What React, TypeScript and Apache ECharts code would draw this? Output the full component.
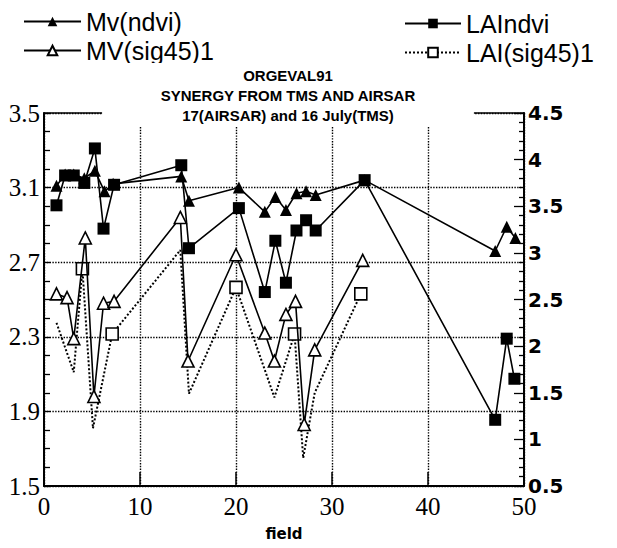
import React, { useEffect, useRef } from "react";
import * as echarts from "echarts";

// ---- data ----
const mvNdviField = [1.3, 2.2, 3.1, 4.2, 5.3, 6.3, 7.2, 14.3, 15.1, 20.3, 23.0, 24.1, 25.2, 26.3, 27.3, 28.3, 33.4, 47.0, 48.2, 49.1];
const mvNdviValue = [3.11, 3.17, 3.17, 3.15, 3.19, 3.08, 3.12, 3.16, 3.03, 3.10, 2.97, 3.05, 2.98, 3.07, 3.08, 3.06, 3.14, 2.76, 2.89, 2.83];

const mvSigField = [1.3, 2.4, 3.1, 4.3, 5.2, 6.2, 7.3, 14.2, 15.0, 20.0, 23.0, 24.0, 25.2, 26.2, 27.1, 28.2, 33.2];
const mvSigValue = [2.53, 2.51, 2.29, 2.83, 1.98, 2.48, 2.49, 2.94, 2.17, 2.74, 2.32, 2.17, 2.42, 2.49, 1.83, 2.23, 2.71];

const laiNdviField = [1.3, 2.2, 3.1, 4.2, 5.3, 6.2, 7.3, 14.3, 15.1, 20.3, 23.0, 24.1, 25.2, 26.3, 27.3, 28.3, 33.4, 47.0, 48.2, 49.0];
const laiNdviValue = [3.51, 3.83, 3.83, 3.75, 4.12, 3.26, 3.73, 3.94, 3.05, 3.48, 2.58, 3.13, 2.68, 3.24, 3.35, 3.24, 3.78, 1.21, 2.08, 1.65];

const laiSigField = [1.3, 3.1, 4.0, 5.1, 7.1, 14.2, 15.1, 20.0, 24.0, 26.1, 27.0, 28.2, 33.0];
const laiSigValue = [2.25, 1.72, 2.83, 1.12, 2.13, 3.03, 1.49, 2.63, 1.45, 2.13, 0.80, 1.50, 2.56];
const laiSigMarked = [false, false, true, false, true, false, false, true, false, true, false, false, true];

const seriesNames = ["Mv(ndvi)", "MV(sig45)1", "LAIndvi", "LAI(sig45)1"];
const titleLines = ["ORGEVAL91", "SYNERGY FROM TMS AND AIRSAR", "17(AIRSAR) and 16 July(TMS)"];
const xAxisName = "field";

const LEFT_MIN = 1.5; // left axis lower bound (axis drawn with an offset so ticks start at 1.5)

export default function App() {
  const ref = useRef<HTMLDivElement>(null);

  useEffect(() => {
    if (!ref.current) return;
    const chart = echarts.init(ref.current, null, { renderer: "svg" });

    const leftPairs = (xs: number[], ys: number[]) => xs.map((x, i) => [x, +(ys[i] - LEFT_MIN).toFixed(4)]);
    const rightPairs = (xs: number[], ys: number[]) => xs.map((x, i) => [x, ys[i]]);

    const black = "#000";
    const legendText = { fontSize: 25, fontFamily: "Liberation Sans", color: black };
    const titlePad = 58;

    const option: any = {
      animation: false,
      backgroundColor: "#fff",
      title: {
        text: titleLines.join("\n"),
        left: 288 - titlePad,
        top: 63,
        textAlign: "center",
        backgroundColor: "#fff",
        padding: [2, titlePad, 2, titlePad],
        textStyle: {
          fontSize: 15,
          fontWeight: "bold",
          fontFamily: "Liberation Sans",
          color: black,
          lineHeight: 20,
          align: "center",
        },
      },
      legend: [
        {
          data: [seriesNames[0], seriesNames[1]],
          left: 18,
          top: 4,
          orient: "vertical",
          itemWidth: 57,
          itemHeight: 12,
          itemGap: 4,
          textStyle: legendText,
          selectedMode: false,
        },
        {
          data: [seriesNames[2], seriesNames[3]],
          left: 399,
          top: 6,
          orient: "vertical",
          itemWidth: 56,
          itemHeight: 12,
          itemGap: 4,
          textStyle: legendText,
          selectedMode: false,
        },
      ],
      grid: { left: 44, right: 93, top: 113, bottom: 62, containLabel: false },
      xAxis: [
        {
          type: "value",
          min: 0,
          max: 50,
          interval: 10,
          name: xAxisName,
          nameLocation: "middle",
          nameGap: 40,
          nameTextStyle: { fontSize: 15, fontWeight: "bold", fontFamily: "DejaVu Sans", color: black },
          axisLine: { show: true, onZero: false, lineStyle: { color: black, width: 2 } },
          axisTick: { show: true, inside: true, length: 14, lineStyle: { color: black, width: 1.5 } },
          axisLabel: { fontSize: 25, fontFamily: "Liberation Serif", color: black, margin: 8 },
          splitLine: { show: true, lineStyle: { color: black, type: "dotted", width: 1.4 } },
        },
        {
          type: "value",
          position: "top",
          min: 0,
          max: 50,
          axisLine: { show: true, onZero: false, lineStyle: { color: black, width: 1.5 } },
          axisTick: { show: false },
          axisLabel: { show: false },
          splitLine: { show: false },
        },
      ],
      yAxis: [
        {
          type: "value",
          position: "left",
          min: 0,
          max: 2,
          interval: 0.4,
          axisLine: { show: true, onZero: false, lineStyle: { color: black, width: 2 } },
          axisTick: { show: true, inside: true, length: 6, lineStyle: { color: black, width: 1.3 } },
          minorTick: { show: true, splitNumber: 4, length: 6, lineStyle: { color: black, width: 1.3 } },
          axisLabel: {
            fontSize: 25,
            fontFamily: "Liberation Serif",
            color: black,
            margin: 4,
            formatter: (v: number) => (v + LEFT_MIN).toFixed(1),
          },
          splitLine: { show: true, lineStyle: { color: black, type: "dotted", width: 1.4 } },
        },
        {
          type: "value",
          position: "right",
          min: 0.5,
          max: 4.5,
          interval: 0.5,
          axisLine: { show: true, onZero: false, lineStyle: { color: black, width: 2 } },
          axisTick: { show: true, inside: true, length: 10, lineStyle: { color: black, width: 1.3 } },
          minorTick: { show: true, splitNumber: 5, length: 5, lineStyle: { color: black, width: 1.3 } },
          axisLabel: { fontSize: 20, fontWeight: "bold", fontFamily: "DejaVu Sans", color: black, margin: 4 },
          splitLine: { show: false },
        },
      ],
      series: [
        {
          name: seriesNames[3],
          type: "line",
          yAxisIndex: 1,
          data: rightPairs(laiSigField, laiSigValue).map((p, i) =>
            laiSigMarked[i] ? { value: p } : { value: p, symbol: "none" }
          ),
          symbol: "rect",
          symbolSize: 12,
          lineStyle: { color: black, width: 2, type: "dotted" },
          itemStyle: { color: "#fff", borderColor: black, borderWidth: 1.6 },
          z: 2,
        },
        {
          name: seriesNames[1],
          type: "line",
          yAxisIndex: 0,
          data: leftPairs(mvSigField, mvSigValue),
          symbol: "triangle",
          symbolSize: 12,
          lineStyle: { color: black, width: 1.6 },
          itemStyle: { color: "#fff", borderColor: black, borderWidth: 1.6 },
          z: 3,
        },
        {
          name: seriesNames[2],
          type: "line",
          yAxisIndex: 1,
          data: rightPairs(laiNdviField, laiNdviValue),
          symbol: "rect",
          symbolSize: 12,
          lineStyle: { color: black, width: 1.6 },
          itemStyle: { color: black },
          z: 4,
        },
        {
          name: seriesNames[0],
          type: "line",
          yAxisIndex: 0,
          data: leftPairs(mvNdviField, mvNdviValue),
          symbol: "triangle",
          symbolSize: 12,
          lineStyle: { color: black, width: 1.6 },
          itemStyle: { color: black },
          z: 5,
        },
      ],
    };

    chart.setOption(option);
    return () => chart.dispose();
  }, []);

  return (
    <div
      ref={ref}
      style={{ position: "absolute", left: 0, top: 0, width: 617, height: 548, background: "#fff" }}
    />
  );
}
